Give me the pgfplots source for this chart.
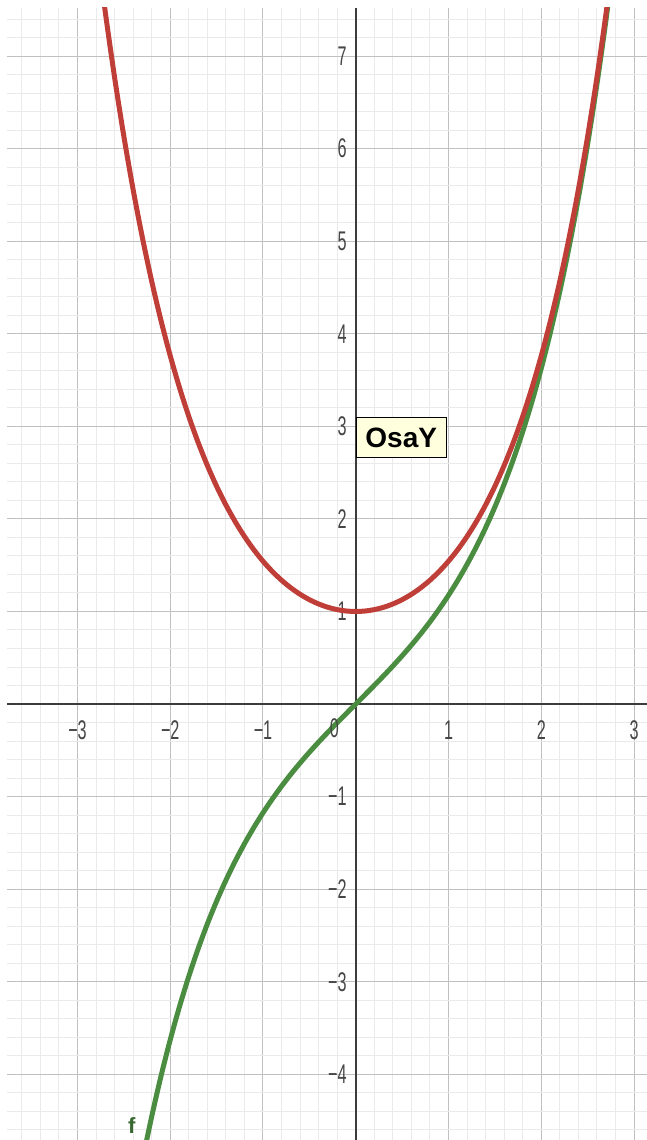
\documentclass[border=0pt]{standalone}
\usepackage{pgfplots}
\pgfplotsset{compat=1.18}
\usepackage{fontspec}
\setmainfont{Liberation Sans}

\definecolor{curvered}{RGB}{192,62,56}
\definecolor{curvegreen}{RGB}{74,140,64}
\definecolor{majorgrid}{RGB}{192,192,192}
\definecolor{minorgrid}{RGB}{234,234,234}
\definecolor{axisgray}{RGB}{60,60,60}
\definecolor{ticktext}{RGB}{70,70,70}
\definecolor{labelbg}{RGB}{255,255,222}

\begin{document}
\begin{tikzpicture}
\begin{axis}[
  scale only axis,
  width=320pt, height=566pt,
  xmin=-3.76, xmax=3.14,
  ymin=-4.71, ymax=7.52,
  axis lines=middle,
  axis line style={axisgray, line width=1pt, -},
  xtick={-3,-2,-1,1,2,3},
  xticklabels={−3,−2,−1,1,2,3},
  ytick={-4,-3,-2,-1,1,2,3,4,5,6,7},
  yticklabels={−4,−3,−2,−1,1,2,3,4,5,6,7},
  minor xtick={-3.6,-3.4,...,3.05},
  minor ytick={-4.6,-4.4,...,7.45},
  grid=both,
  major grid style={majorgrid, line width=0.5pt},
  minor grid style={minorgrid, line width=0.5pt},
  major tick length=0pt, minor tick length=0pt,
  tick label style={font=\fontsize{13.5}{13.5}\selectfont, text=ticktext, xscale=0.6},
  xticklabel style={yshift=-5pt},
  yticklabel style={xshift=-4pt},
]
% sinh-shaped curve f
\addplot[curvegreen, line width=2.5pt, smooth] coordinates {
  (-2.4,-5.4662) (-2.3,-4.9370) (-2.2,-4.4571) (-2.1,-4.0219) (-2.0,-3.6269)
  (-1.9,-3.2682) (-1.8,-2.9422) (-1.7,-2.6456) (-1.6,-2.3756) (-1.5,-2.1293)
  (-1.4,-1.9043) (-1.3,-1.6984) (-1.2,-1.5095) (-1.1,-1.3356) (-1.0,-1.1752)
  (-0.9,-1.0265) (-0.8,-0.8881) (-0.7,-0.7586) (-0.6,-0.6367) (-0.5,-0.5211)
  (-0.4,-0.4108) (-0.3,-0.3045) (-0.2,-0.2013) (-0.1,-0.1002) (0,0)
  (0.1,0.1002) (0.2,0.2013) (0.3,0.3045) (0.4,0.4108) (0.5,0.5211)
  (0.6,0.6367) (0.7,0.7586) (0.8,0.8881) (0.9,1.0265) (1.0,1.1752)
  (1.1,1.3356) (1.2,1.5095) (1.3,1.6984) (1.4,1.9043) (1.5,2.1293)
  (1.6,2.3756) (1.7,2.6456) (1.8,2.9422) (1.9,3.2682) (2.0,3.6269)
  (2.1,4.0219) (2.2,4.4571) (2.3,4.9370) (2.4,5.4662) (2.5,6.0502)
  (2.6,6.6947) (2.7,7.4063) (2.8,8.1919)
};
% cosh-shaped curve
\addplot[curvered, line width=2.5pt, smooth] coordinates {
  (-2.8,8.2527) (-2.7,7.4735) (-2.6,6.7690) (-2.5,6.1323) (-2.4,5.5569)
  (-2.3,5.0372) (-2.2,4.5679) (-2.1,4.1443) (-2.0,3.7622) (-1.9,3.4177)
  (-1.8,3.1075) (-1.7,2.8283) (-1.6,2.5775) (-1.5,2.3524) (-1.4,2.1509)
  (-1.3,1.9709) (-1.2,1.8107) (-1.1,1.6685) (-1.0,1.5431) (-0.9,1.4331)
  (-0.8,1.3374) (-0.7,1.2552) (-0.6,1.1855) (-0.5,1.1276) (-0.4,1.0811)
  (-0.3,1.0453) (-0.2,1.0201) (-0.1,1.0050) (0,1)
  (0.1,1.0050) (0.2,1.0201) (0.3,1.0453) (0.4,1.0811) (0.5,1.1276)
  (0.6,1.1855) (0.7,1.2552) (0.8,1.3374) (0.9,1.4331) (1.0,1.5431)
  (1.1,1.6685) (1.2,1.8107) (1.3,1.9709) (1.4,2.1509) (1.5,2.3524)
  (1.6,2.5775) (1.7,2.8283) (1.8,3.1075) (1.9,3.4177) (2.0,3.7622)
  (2.1,4.1443) (2.2,4.5679) (2.3,5.0372) (2.4,5.5569) (2.5,6.1323)
  (2.6,6.7690) (2.7,7.4735) (2.8,8.2527)
};
% origin label
\node[text=ticktext, font=\fontsize{13.5}{13.5}\selectfont, xscale=0.6]
  at (axis cs:-0.23,-0.26) {0};
% axis caption box
\node[anchor=north west, draw=black, line width=0.5pt, fill=labelbg,
  minimum width=45pt, minimum height=20pt, inner sep=0pt,
  font=\bfseries\fontsize{14}{14}\selectfont]
  at (axis cs:0,3.10) {OsaY};
% curve name
\node[anchor=east, text=curvegreen!75!black,
  font=\bfseries\fontsize{11}{11}\selectfont]
  at (axis cs:-2.30,-4.55) {f};
\end{axis}
\pgfresetboundingbox
\path[use as bounding box] ([xshift=-3.5pt]current axis.south west)
  rectangle ([yshift=4pt]current axis.north east);
\end{tikzpicture}
\end{document}
